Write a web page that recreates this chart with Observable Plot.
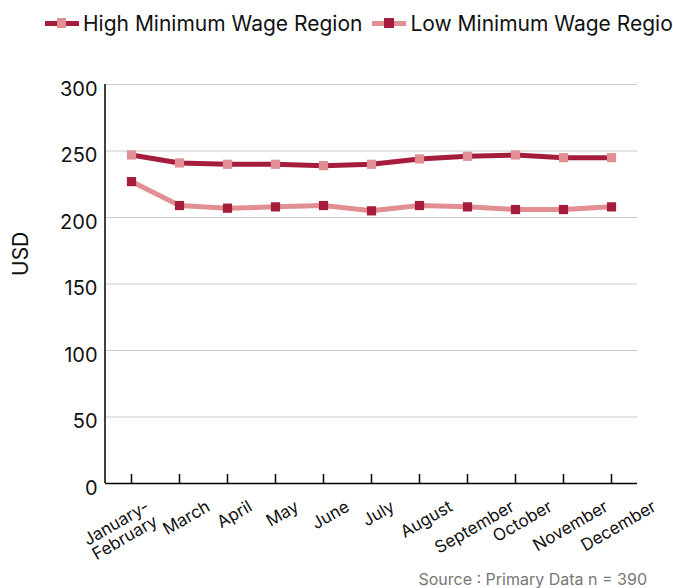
<!DOCTYPE html>
<html>
<head>
<meta charset="utf-8">
<script src="https://cdn.jsdelivr.net/npm/d3@7"></script>
<script src="https://cdn.jsdelivr.net/npm/@observablehq/plot@0.6"></script>
<style>
  html, body { margin: 0; padding: 0; background: #fff; }
  body { width: 673px; height: 588px; overflow: hidden; font-family: Inter, "Noto Sans", sans-serif; }
  #legend { height: 46px; padding-left: 45px; display: flex; align-items: center; white-space: nowrap; overflow: hidden; width: 628px; font-size: 21px; color: #111; }
  .item { display: flex; align-items: center; flex: none; }
  .sw { position: relative; width: 34px; height: 10px; flex: none; margin-right: 4px; }
  .sw .ln { position: absolute; left: 0; right: 0; top: 2.5px; height: 5px; }
  .sw .mk { position: absolute; left: 12px; top: 0.3px; width: 9.4px; height: 9.4px; }
  #chart { height: 514px; line-height: 0; }
  #caption { height: 28px; line-height: 38px; text-align: right; padding-right: 26px; font-size: 16px; color: #777; }
</style>
</head>
<body>
<div id="legend"></div>
<div id="chart"></div>
<div id="caption">Source : Primary Data n = 390</div>
<script>
const months = ["January-\nFebruary", "March", "April", "May", "June", "July", "August", "September", "October", "November", "December"];
const highWage = [247, 241, 240, 240, 239, 240, 244, 246, 247, 245, 245];
const lowWage = [227, 209, 207, 208, 209, 205, 209, 208, 206, 206, 208];
const seriesNames = ["High Minimum Wage Region", "Low Minimum Wage Region"];
const yTicks = [0, 50, 100, 150, 200, 250, 300];
const yLabel = "USD";

const dark = "#a61c3c";
const light = "#e28f93";
const styles = [
  {line: dark, marker: light},
  {line: light, marker: dark}
];

const rows = [];
months.forEach((m, i) => {
  rows.push({month: m, series: seriesNames[0], value: highWage[i]});
  rows.push({month: m, series: seriesNames[1], value: lowWage[i]});
});

// legend
const legend = document.getElementById("legend");
seriesNames.forEach((name, i) => {
  const it = document.createElement("div");
  it.className = "item";
  if (i > 0) it.style.marginLeft = "10px";
  it.innerHTML = `<span class="sw"><span class="ln" style="background:${styles[i].line}"></span><span class="mk" style="background:${styles[i].marker}"></span></span><span>${name}</span>`;
  legend.appendChild(it);
});

const W = 673, H = 514, mT = 38, mB = 77, mL = 105, mR = 36;
const plotH = H - mT - mB;
const fs = 17;
const ctx = document.createElement("canvas").getContext("2d");
ctx.font = `${fs}px Inter`;

const xLabelMarks = months.map(m => {
  const lines = m.split("\n");
  const L = Math.max(...lines.map(s => ctx.measureText(s).width));
  const h = lines.length * fs;
  const c = lines.length > 1 ? -10 : 8;
  return Plot.text([m], {
    x: d => d, frameAnchor: "bottom", text: d => d,
    textAnchor: "end", lineAnchor: "top", rotate: -30,
    dx: c + 0.433 * L - 0.25 * h, dy: 16,
    fontSize: fs, fill: "#111"
  });
});

const yAxisLine = (index, scales, values, dims) => {
  const line = document.createElementNS("http://www.w3.org/2000/svg", "line");
  const x = dims.marginLeft;
  line.setAttribute("x1", x); line.setAttribute("x2", x);
  line.setAttribute("y1", scales.y(300)); line.setAttribute("y2", scales.y(0));
  line.setAttribute("stroke", "black"); line.setAttribute("stroke-width", 1.5);
  return line;
};

const chart = Plot.plot({
  width: W, height: H,
  marginTop: mT, marginBottom: mB, marginLeft: mL, marginRight: mR,
  style: {fontFamily: "Inter, 'Noto Sans', sans-serif", background: "white", overflow: "visible"},
  x: {type: "point", domain: months, padding: 0.5, axis: null},
  y: {domain: [0, 300], axis: null},
  marks: [
    Plot.gridY(yTicks, {stroke: "#cccccc", strokeOpacity: 1, strokeWidth: 1}),
    Plot.text(yTicks, {frameAnchor: "left", y: d => d, text: d => String(d), textAnchor: "end", dx: -8, dy: 5, fontSize: 20, fill: "#111"}),
    Plot.ruleY([0], {stroke: "black", strokeWidth: 1.5}),
    yAxisLine,
    Plot.tickX(months, {x: d => d, stroke: "black", strokeWidth: 1.5, insetTop: plotH - 9}),
    ...xLabelMarks,
    Plot.text([yLabel], {frameAnchor: "left", text: d => d, rotate: -90, dx: -84, dy: -8, fontSize: 21, fill: "#111"}),
    ...seriesNames.map((s, i) => Plot.line(rows.filter(r => r.series === s), {x: "month", y: "value", stroke: styles[i].line, strokeWidth: 5})),
    ...seriesNames.map((s, i) => Plot.dot(rows.filter(r => r.series === s), {x: "month", y: "value", symbol: "square", r: 5.2, fill: styles[i].marker, stroke: "none"}))
  ]
});
document.getElementById("chart").appendChild(chart);
</script>
</body>
</html>
